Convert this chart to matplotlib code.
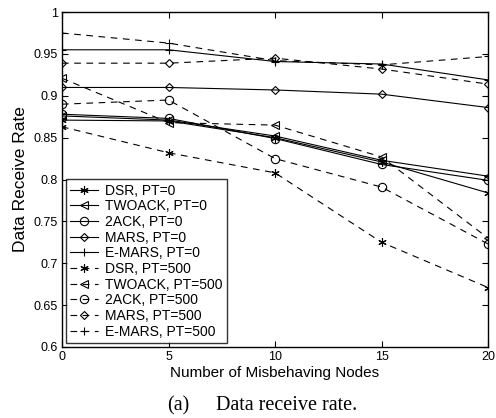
import matplotlib
matplotlib.use("Agg")
import matplotlib.pyplot as plt

plt.rcParams['font.family'] = ['Liberation Sans', 'DejaVu Sans']

nodes = [0, 5, 10, 15, 20]

# PT = 0
dsr_0 = [0.871, 0.870, 0.850, 0.821, 0.784]
twoack_0 = [0.876, 0.871, 0.852, 0.823, 0.804]
ack2_0 = [0.878, 0.873, 0.849, 0.818, 0.799]
mars_0 = [0.910, 0.910, 0.907, 0.902, 0.886]
emars_0 = [0.955, 0.955, 0.941, 0.938, 0.919]

# PT = 500
dsr_500 = [0.863, 0.832, 0.808, 0.725, 0.671]
twoack_500 = [0.921, 0.868, 0.865, 0.827, 0.730]
ack2_500 = [0.890, 0.895, 0.825, 0.791, 0.723]
mars_500 = [0.939, 0.939, 0.945, 0.932, 0.914]
emars_500 = [0.975, 0.963, 0.942, 0.937, 0.947]

names = ['DSR', 'TWOACK', '2ACK', 'MARS', 'E-MARS']
markers = [(6, 2, 0), '<', 'o', 'D', '+']
series_0 = [dsr_0, twoack_0, ack2_0, mars_0, emars_0]
series_500 = [dsr_500, twoack_500, ack2_500, mars_500, emars_500]

fig = plt.figure(figsize=(4.96, 4.18), dpi=100)
ax = fig.add_axes([0.125, 0.170, 0.859, 0.801])

for name, m, vals in zip(names, markers, series_0):
    ms = 4.5 if m == 'D' else 6
    ax.plot(nodes, vals, color='black', linestyle='-', linewidth=0.8,
            marker=m, markersize=ms, mfc='none', mec='black', mew=0.8,
            label=name + ', PT=0')
for name, m, vals in zip(names, markers, series_500):
    ms = 4.5 if m == 'D' else 6
    ax.plot(nodes, vals, color='black', linestyle=(0, (6, 5)), linewidth=0.8,
            marker=m, markersize=ms, mfc='none', mec='black', mew=0.8,
            label=name + ', PT=500')

ax.set_xlim(0, 20)
ax.set_ylim(0.6, 1.0)
ax.set_xticks([0, 5, 10, 15, 20])
ax.set_yticks([0.6, 0.65, 0.7, 0.75, 0.8, 0.85, 0.9, 0.95, 1.0])
ax.set_yticklabels(['0.6', '0.65', '0.7', '0.75', '0.8', '0.85', '0.9', '0.95', '1'])
ax.tick_params(direction='in', top=True, right=True, labelsize=9, length=4, width=0.8, pad=3)
for sp in ax.spines.values():
    sp.set_linewidth(1.0)

ax.set_xlabel('Number of Misbehaving Nodes', fontsize=11, labelpad=2)
ax.set_ylabel('Data Receive Rate', fontsize=12.5, labelpad=4)

leg = ax.legend(loc='lower left', fontsize=10, frameon=True, fancybox=False,
                edgecolor='black', handlelength=2.0, handletextpad=0.5,
                labelspacing=0.12, borderpad=0.3, borderaxespad=0.3)
leg.get_frame().set_linewidth(1.0)

serif = ['Liberation Serif', 'DejaVu Serif']
fig.text(167 / 496, 0.03, '(a)', ha='left', va='center', fontsize=14.5, family=serif)
fig.text(216 / 496, 0.03, 'Data receive rate.', ha='left', va='center', fontsize=14.5, family=serif)

fig.savefig('out.png', dpi=100)
